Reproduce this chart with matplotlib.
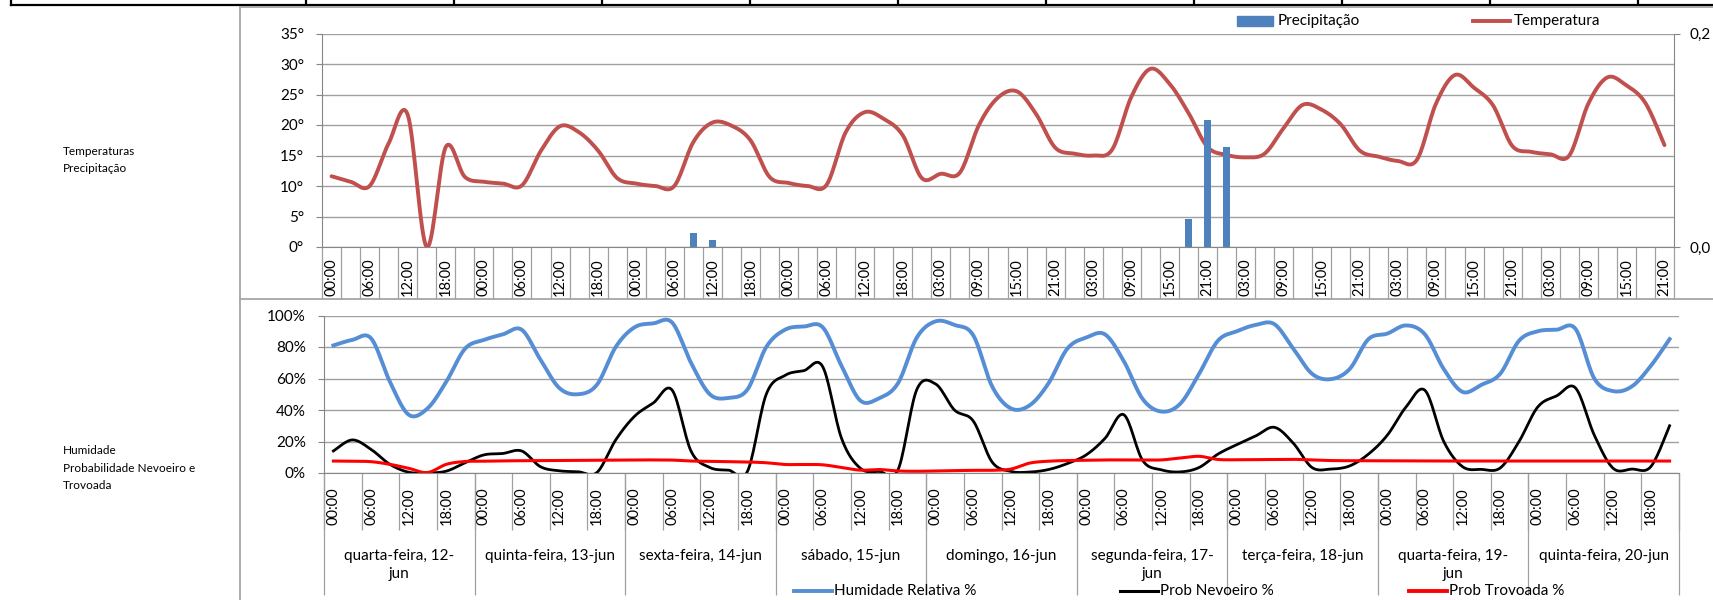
import numpy as np
import matplotlib
matplotlib.use("Agg")
import matplotlib.pyplot as plt
from matplotlib.lines import Line2D
from matplotlib.patches import Rectangle

plt.rcParams['font.family'] = ['Lato', 'DejaVu Sans']
plt.rcParams['font.size'] = 11

# ---- data ----
hours = ['00:00', '03:00', '06:00', '09:00', '12:00', '15:00', '18:00', '21:00']
top_times = hours * 4 + hours[1:] + hours * 4          # 00:00 of 16-jun missing
temperatura = [11.6, 10.7, 10.0, 17.0, 21.7, 0.0, 16.4, 11.5,
               10.7, 10.4, 10.1, 15.8, 19.8, 18.8, 15.8, 11.3,
               10.4, 10.0, 10.0, 17.2, 20.4, 19.9, 17.5, 11.5,
               10.5, 10.0, 10.2, 18.8, 22.1, 21.0, 18.3, 11.3,
               12.0, 12.2, 20.0, 24.5, 25.5, 21.8, 16.3,
               15.3, 15.0, 16.0, 24.6, 29.2, 26.8, 22.0, 16.4,
               15.1, 14.7, 15.3, 19.5, 23.3, 22.5, 20.1, 15.8,
               14.8, 14.1, 14.3, 23.5, 28.2, 26.1, 23.2, 16.6,
               15.6, 15.2, 15.0, 23.5, 27.8, 26.5, 23.6, 16.7]
precipitacao = [0.0] * 71
precipitacao[19] = 0.013
precipitacao[20] = 0.0066
precipitacao[45] = 0.026
precipitacao[46] = 0.119
precipitacao[47] = 0.094

bottom_times = hours * 9
dias = ['quarta-feira, 12-\njun', 'quinta-feira, 13-jun', 'sexta-feira, 14-jun',
        'sábado, 15-jun', 'domingo, 16-jun', 'segunda-feira, 17-\njun',
        'terça-feira, 18-jun', 'quarta-feira, 19-\njun', 'quinta-feira, 20-jun']
humidade = [81, 84.5, 85.5, 58, 37, 41, 58, 79,
            84.5, 88, 91, 72, 54, 50, 56, 80,
            92.5, 95, 95.5, 70, 50, 47.7, 53, 80,
            91, 93, 92.5, 68, 46, 47.5, 57, 86,
            96.3, 94, 87.4, 55, 41, 43, 57, 79,
            86, 88, 71, 47, 39, 44, 63, 84,
            90, 94, 94.5, 79, 63, 59.6, 66, 85,
            88.5, 93.7, 88, 66, 51.5, 56, 63, 84,
            90, 91, 91.5, 60, 52, 55, 68, 85]
nevoeiro = [14, 21, 15, 5.5, 0.5, 0, 1.2, 6.5, 11.5, 12.4,
            14, 4, 1.4, 0.8, 0.3, 21, 36, 44.5, 52.6, 14,
            3.5, 1.8, 1, 50, 62, 65, 67.5, 22, 3, 1,
            2, 53, 56.5, 40, 33, 7, 1, 0.6, 2.2, 6,
            11.5, 22, 37, 8, 2, 0.7, 3.5, 12, 18, 23.5,
            29, 19, 3.5, 2.5, 4.5, 12, 24, 42, 52.5, 20,
            4, 2.3, 3.2, 20, 42, 49, 54, 24, 3, 2.5,
            4, 30]
trovoada = [7.6, 7.5, 7.2, 5.5, 3, 0.3, 5.5, 7.3, 7.5, 7.7,
            7.8, 7.9, 8, 8, 8.1, 8.2, 8.3, 8.3, 8.2, 7.6,
            7.4, 7.2, 7, 6.5, 5.4, 5.4, 5.2, 3.5, 1.8, 2.2,
            1.3, 1.1, 1.3, 1.5, 1.7, 1.7, 2.5, 6.3, 7.5, 7.9,
            8.1, 8.3, 8.3, 8.3, 8.3, 9.6, 10.6, 8.6, 8.4, 8.5,
            8.6, 8.7, 8.3, 7.9, 7.8, 7.7, 7.7, 7.6, 7.6, 7.6,
            7.6, 7.6, 7.6, 7.6, 7.6, 7.6, 7.6, 7.6, 7.6, 7.6,
            7.6, 7.6]

W, H = 1713, 600
GRID = '#a0a0a0'
AXC = '#868686'


def fx(px):
    return px / W


def fy(py):
    return 1 - py / H


def smooth(y, n=16):
    # excel style smoothed line (bezier through every point)
    y = np.asarray(y, float)
    x = np.arange(len(y), dtype=float)
    xs, ys = [], []
    t = np.linspace(0, 1, n, endpoint=False)
    for i in range(len(y) - 1):
        a = max(i - 1, 0)
        b = min(i + 2, len(y) - 1)
        c1x, c1y = x[i] + (x[i + 1] - x[a]) / 6, y[i] + (y[i + 1] - y[a]) / 6
        c2x, c2y = x[i + 1] - (x[b] - x[i]) / 6, y[i + 1] - (y[b] - y[i]) / 6
        xs.append((1 - t) ** 3 * x[i] + 3 * (1 - t) ** 2 * t * c1x + 3 * (1 - t) * t ** 2 * c2x + t ** 3 * x[i + 1])
        ys.append((1 - t) ** 3 * y[i] + 3 * (1 - t) ** 2 * t * c1y + 3 * (1 - t) * t ** 2 * c2y + t ** 3 * y[i + 1])
    xs.append([x[-1]])
    ys.append([y[-1]])
    return np.concatenate(xs), np.concatenate(ys)


fig = plt.figure(figsize=(W / 100, H / 100), dpi=100)

# spreadsheet cell border at the top and chart frames
fig.add_artist(Line2D([fx(11), 1], [fy(5), fy(5)], color='black', lw=1.6))
for cx in [11] + list(range(306, W, 148)):
    fig.add_artist(Line2D([fx(cx), fx(cx)], [fy(0), fy(5)], color='black', lw=1.6))
fig.add_artist(Line2D([fx(240), fx(240)], [fy(7), 0], color='#a6a6a6', lw=1.3))
fig.add_artist(Line2D([fx(240), 1], [fy(7), fy(7)], color='#a6a6a6', lw=1.3))
fig.add_artist(Line2D([fx(240), 1], [fy(299), fy(299)], color='#a6a6a6', lw=1.3))

fig.text(fx(63), fy(160), 'Temperaturas\nPrecipitação', fontsize=8.5, va='center', linespacing=1.7)
fig.text(fx(63), fy(468), 'Humidade\nProbabilidade Nevoeiro e\nTrovoada', fontsize=8.5, va='center',
         linespacing=1.7)

# ---- top chart ----
ax1 = fig.add_axes([fx(322), fy(247), fx(1674 - 322), (247 - 33.5) / H])
xt, yt = smooth(temperatura)
ax1.plot(xt, yt, color='#C0504D', lw=2.8, solid_capstyle='round')
ax1.set_xlim(-0.5, len(temperatura) - 0.5)
ax1.set_ylim(0, 35)
ax1.set_yticks(range(0, 36, 5))
ax1.set_yticklabels([f'{v}°' for v in range(0, 36, 5)])
ax1.yaxis.grid(True, color=GRID, lw=1)
ax1.set_axisbelow(True)
ax1.set_xticks(range(len(top_times)))
ax1.set_xticklabels([t if i % 2 == 0 else '' for i, t in enumerate(top_times)], rotation=90, fontsize=10.5)
ax1.set_xticks(np.arange(-0.5, len(top_times)), minor=True)
ax1.tick_params(axis='x', which='major', length=0, pad=8)
ax1.tick_params(axis='x', which='minor', length=37.5, color=GRID, width=0.9)
ax1.tick_params(axis='y', length=4, color=AXC, pad=9)
for s in ['top', 'right']:
    ax1.spines[s].set_visible(False)
ax1.spines['left'].set_color(AXC)
ax1.spines['bottom'].set_color(AXC)

ax1b = ax1.twinx()
ax1b.bar(range(len(precipitacao)), precipitacao, width=0.37, color='#4F81BD')
ax1b.set_ylim(0, 0.2)
ax1b.set_yticks([0, 0.2])
ax1b.set_yticklabels(['0,0', '0,2'])
ax1b.tick_params(axis='y', length=4, color=AXC, pad=7)
for s in ['top', 'left', 'bottom']:
    ax1b.spines[s].set_visible(False)
ax1b.spines['right'].set_color(AXC)

# top legend
fig.add_artist(Rectangle((fx(1237), fy(26)), fx(36), 10 / H, color='#4F81BD'))
fig.text(fx(1278), fy(21), 'Precipitação', va='center')
fig.add_artist(Line2D([fx(1473), fx(1510)], [fy(21), fy(21)], color='#C0504D', lw=2.8))
fig.text(fx(1514), fy(21), 'Temperatura', va='center')

# ---- bottom chart ----
ax2 = fig.add_axes([fx(324), fy(473), fx(1679 - 324), (473 - 315.5) / H])
for serie, cor, lw in [(humidade, '#558ED5', 2.8), (nevoeiro, 'black', 2.0), (trovoada, '#FF0000', 2.2)]:
    xs, ys = smooth(serie)
    ax2.plot(xs, ys, color=cor, lw=lw)
ax2.set_xlim(-0.5, len(bottom_times) - 0.5)
ax2.set_ylim(0, 100)
ax2.set_yticks(range(0, 101, 20))
ax2.set_yticklabels([f'{v}%' for v in range(0, 101, 20)])
ax2.yaxis.grid(True, color=GRID, lw=1)
ax2.set_axisbelow(True)
ax2.set_xticks(range(len(bottom_times)))
ax2.set_xticklabels([t if i % 2 == 0 else '' for i, t in enumerate(bottom_times)], rotation=90, fontsize=10.5)
ax2.set_xticks(np.arange(-0.5, len(bottom_times), 2), minor=True)
ax2.tick_params(axis='x', which='major', length=0, pad=10)
ax2.tick_params(axis='x', which='minor', length=41, color=GRID, width=0.9)
ax2.tick_params(axis='y', length=4, color=AXC, pad=9)
for s in ['top', 'right']:
    ax2.spines[s].set_visible(False)
ax2.spines['left'].set_color(AXC)
ax2.spines['bottom'].set_color(AXC)

sec = ax2.secondary_xaxis('bottom')
sec.set_xticks(np.arange(-0.5, len(bottom_times) + 1, 8))
sec.set_xticklabels([''] * len(np.arange(-0.5, len(bottom_times) + 1, 8)))
sec.set_xticks(np.arange(3.5, len(bottom_times), 8), minor=True)
sec.set_xticklabels(dias, minor=True, linespacing=1.35)
sec.tick_params(which='major', length=88, color=GRID, width=0.9)
sec.tick_params(which='minor', length=0, pad=55)
sec.spines['bottom'].set_visible(False)

# bottom legend
for x0, cor, lw, txt in [(794, '#558ED5', 2.8, 'Humidade Relativa %'),
                         (1120, 'black', 2.2, 'Prob Nevoeiro %'),
                         (1409, '#FF0000', 2.8, 'Prob Trovoada %')]:
    fig.add_artist(Line2D([fx(x0), fx(x0 + 38)], [fy(591), fy(591)], color=cor, lw=lw))
    fig.text(fx(x0 + 40), fy(591), txt, va='center')

fig.savefig('out.png', dpi=100)
